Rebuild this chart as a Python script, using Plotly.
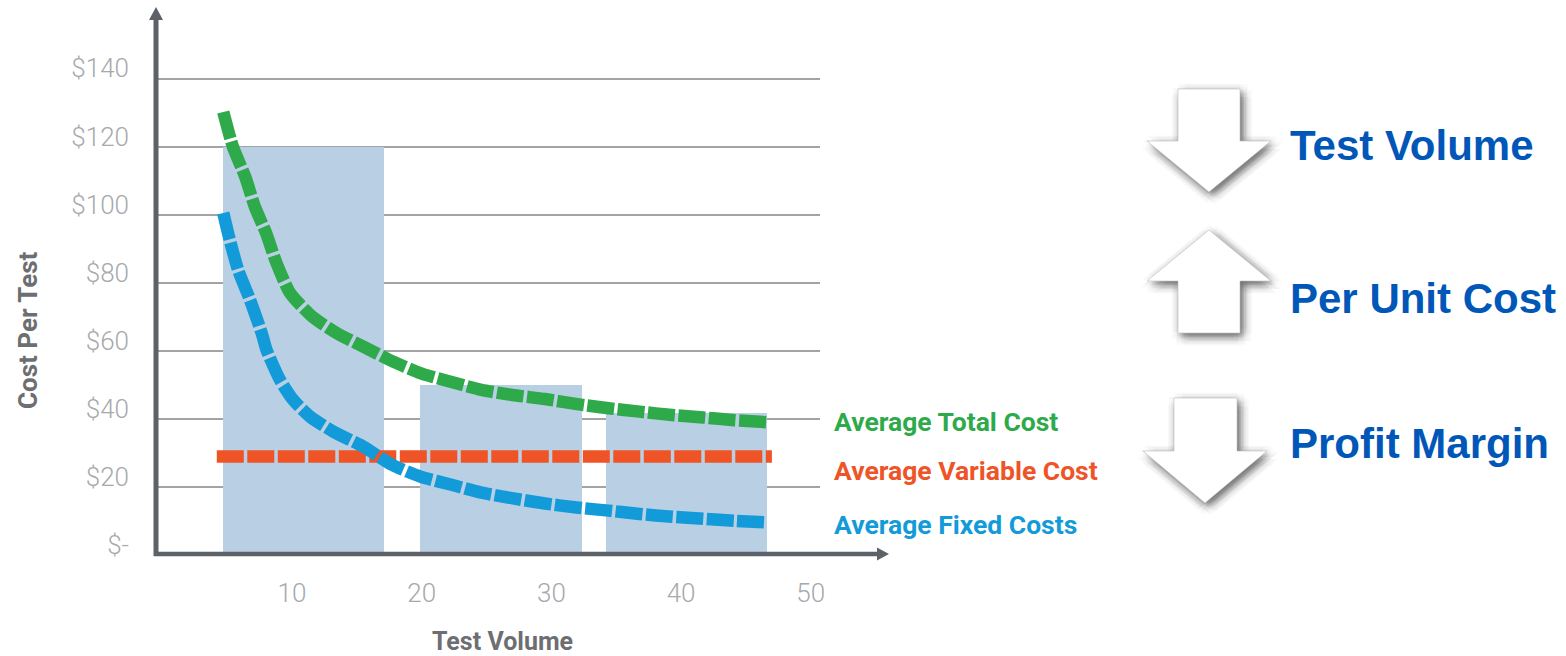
import math
import plotly.graph_objects as go

# ---------------- data ----------------
y_tick_vals = [0, 20, 40, 60, 80, 100, 120, 140]
y_tick_text = ["$-", "$20", "$40", "$60", "$80", "$100", "$120", "$140"]
x_tick_vals = [10, 20, 30, 40, 50]

bar_x = [10.9, 26.1, 40.4]
bar_values = [120, 50, 42]

atc_x = [4.7, 5.45, 6.4, 7.15, 8.0, 8.8, 9.85, 11.6, 13.45, 15.5, 17.8, 20.0, 22.3,
         24.6, 27.0, 29.5, 32.0, 34.4, 36.8, 39.3, 41.7, 44.1, 46.6]
atc_y = [130.4, 120.1, 111.3, 102.4, 94.8, 86.0, 77.2, 70.1, 65.4, 61.4, 57.0, 53.5, 51.0,
         48.7, 47.2, 46.0, 44.5, 43.3, 42.3, 41.3, 40.6, 39.8, 39.2]

avc_x = [4.2, 47.0]
avc_y = [29.1, 29.1]

afc_x = [4.7, 5.2, 5.85, 6.76, 7.66, 8.04, 9.08, 10.1, 11.4, 13.2, 15.5, 17.7, 19.9,
         22.3, 24.6, 27.05, 29.5, 31.95, 34.4, 36.8, 39.3, 41.7, 44.1, 46.6]
afc_y = [100.7, 92.8, 83.9, 75.2, 65.4, 60.4, 51.6, 45.7, 40.8, 36.4, 32.0, 26.7, 23.2,
         20.8, 18.5, 16.8, 15.3, 14.1, 13.2, 12.2, 11.4, 10.8, 10.2, 9.7]

series_names = ["Average Total Cost", "Average Variable Cost", "Average Fixed Costs"]
side_labels = ["Test Volume", "Per Unit Cost", "Profit Margin"]

# ---------------- layout geometry (pixels) ----------------
W, H = 1566, 656
L, R, T, B = 157, 820, 60, 556
X_RANGE = [-0.41, 50.71]
Y_RANGE = [-0.147, 145.7]

def fx(px):
    return (px - L) / (R - L)

def fy(py):
    return (B - py) / (B - T)

def path(points):
    return "M " + " L ".join(f"{fx(a):.5f},{fy(b):.5f}" for a, b in points) + " Z"

GREEN = "#2eaa4b"
RED = "#ee5426"
BLUE = "#139bd9"
BARC = "#b9cfe3"
AXC = "#5d6268"
TICKC = "#a7a9ac"
TITLEC = "#6d6e71"
SIDEC = "#0057b8"
DASH = "27px,3.5px"

fig = go.Figure()

fig.add_trace(go.Bar(x=bar_x, y=bar_values, width=12.45, marker=dict(color=BARC, line=dict(width=0)),
                     hoverinfo="skip", showlegend=False))

fig.add_trace(go.Scatter(x=avc_x, y=avc_y, mode="lines", name=series_names[1],
                         line=dict(color=RED, width=12.5, dash=DASH)))
fig.add_trace(go.Scatter(x=afc_x, y=afc_y, mode="lines", name=series_names[2],
                         line=dict(color=BLUE, width=12.5, dash=DASH, shape="spline", smoothing=0.6)))
fig.add_trace(go.Scatter(x=atc_x, y=atc_y, mode="lines", name=series_names[0],
                         line=dict(color=GREEN, width=12.5, dash=DASH, shape="spline", smoothing=0.6)))

shapes = []
# axis lines with arrowheads
shapes.append(dict(type="line", xref="paper", yref="paper", x0=fx(156), y0=fy(556), x1=fx(156), y1=fy(16),
                   line=dict(color=AXC, width=5)))
shapes.append(dict(type="path", xref="paper", yref="paper", path=path([(149, 20), (156, 7), (163, 20)]),
                   fillcolor=AXC, line=dict(width=0)))
shapes.append(dict(type="line", xref="paper", yref="paper", x0=fx(154), y0=fy(554), x1=fx(880), y1=fy(554),
                   line=dict(color=AXC, width=4.5)))
shapes.append(dict(type="path", xref="paper", yref="paper", path=path([(877, 547.5), (889, 554), (877, 560.5)]),
                   fillcolor=AXC, line=dict(width=0)))

# block arrows on the right with a soft drop shadow
arrow_pts = {
    0: [(1178, 89), (1240, 89), (1240, 141), (1271, 141), (1209, 192), (1147, 141), (1178, 141)],
    1: [(1209, 230), (1271, 281), (1240, 281), (1240, 333), (1178, 333), (1178, 281), (1147, 281)],
    2: [(1174, 398), (1237, 398), (1237, 451), (1267, 451), (1205, 503), (1143, 451), (1174, 451)],
}
for i in range(3):
    pts = arrow_pts[i]
    for r in [1.5, 3.5, 5.5, 7.5, 9.5]:
        for k in range(8):
            ang = 2 * math.pi * k / 8 + r * 0.3
            dx = 3 + r * math.cos(ang)
            dy = 3.5 + r * math.sin(ang)
            shp = [(a + dx, b + dy) for a, b in pts]
            shapes.append(dict(type="path", xref="paper", yref="paper", path=path(shp),
                               fillcolor="rgba(0,0,0,0.018)", line=dict(width=0)))
    shapes.append(dict(type="path", xref="paper", yref="paper", path=path(pts),
                       fillcolor="white", line=dict(color="rgba(190,190,190,0.6)", width=1)))

annotations = []
label_y = [421, 470, 524]
label_c = [GREEN, RED, BLUE]
for name, yy, c in zip(series_names, label_y, label_c):
    annotations.append(dict(text=name, xref="paper", yref="paper", x=fx(832), y=fy(yy), xanchor="left",
                            yanchor="middle", showarrow=False,
                            font=dict(family="Roboto", size=26.5, color=c, weight="bold")))

side_y = [146, 298, 443]
for name, yy in zip(side_labels, side_y):
    annotations.append(dict(text=name, xref="paper", yref="paper", x=fx(1288), y=fy(yy), xanchor="left",
                            yanchor="middle", showarrow=False,
                            font=dict(family="Liberation Sans, Arial", size=42, color=SIDEC, weight="bold")))

annotations.append(dict(text="Cost Per Test", xref="paper", yref="paper", x=fx(28), y=fy(330),
                        xanchor="center", yanchor="middle", textangle=-90, showarrow=False,
                        font=dict(family="Roboto", size=26, color=TITLEC, weight="bold")))
annotations.append(dict(text="Test Volume", xref="paper", yref="paper", x=fx(502), y=fy(641),
                        xanchor="center", yanchor="middle", showarrow=False,
                        font=dict(family="Roboto", size=25, color=TITLEC, weight="bold")))

fig.update_layout(
    width=W, height=H,
    margin=dict(l=L, r=W - R, t=T, b=H - B, pad=0),
    paper_bgcolor="white", plot_bgcolor="white",
    showlegend=False,
    shapes=shapes, annotations=annotations,
    bargap=0,
    xaxis=dict(range=X_RANGE, tickvals=x_tick_vals, showgrid=False, zeroline=False, showline=False,
               ticks="", ticklabelstandoff=19,
               tickfont=dict(family="Roboto", size=26, color=TICKC, weight=300)),
    yaxis=dict(range=Y_RANGE, tickvals=y_tick_vals, ticktext=y_tick_text, showgrid=True,
               gridcolor="#a3a3a3", gridwidth=1.5, zeroline=False, showline=False,
               ticks="", ticklabelstandoff=27, ticklabelshift=-11,
               tickfont=dict(family="Roboto", size=26, color=TICKC, weight=300)),
)

fig.write_html("out.html")
